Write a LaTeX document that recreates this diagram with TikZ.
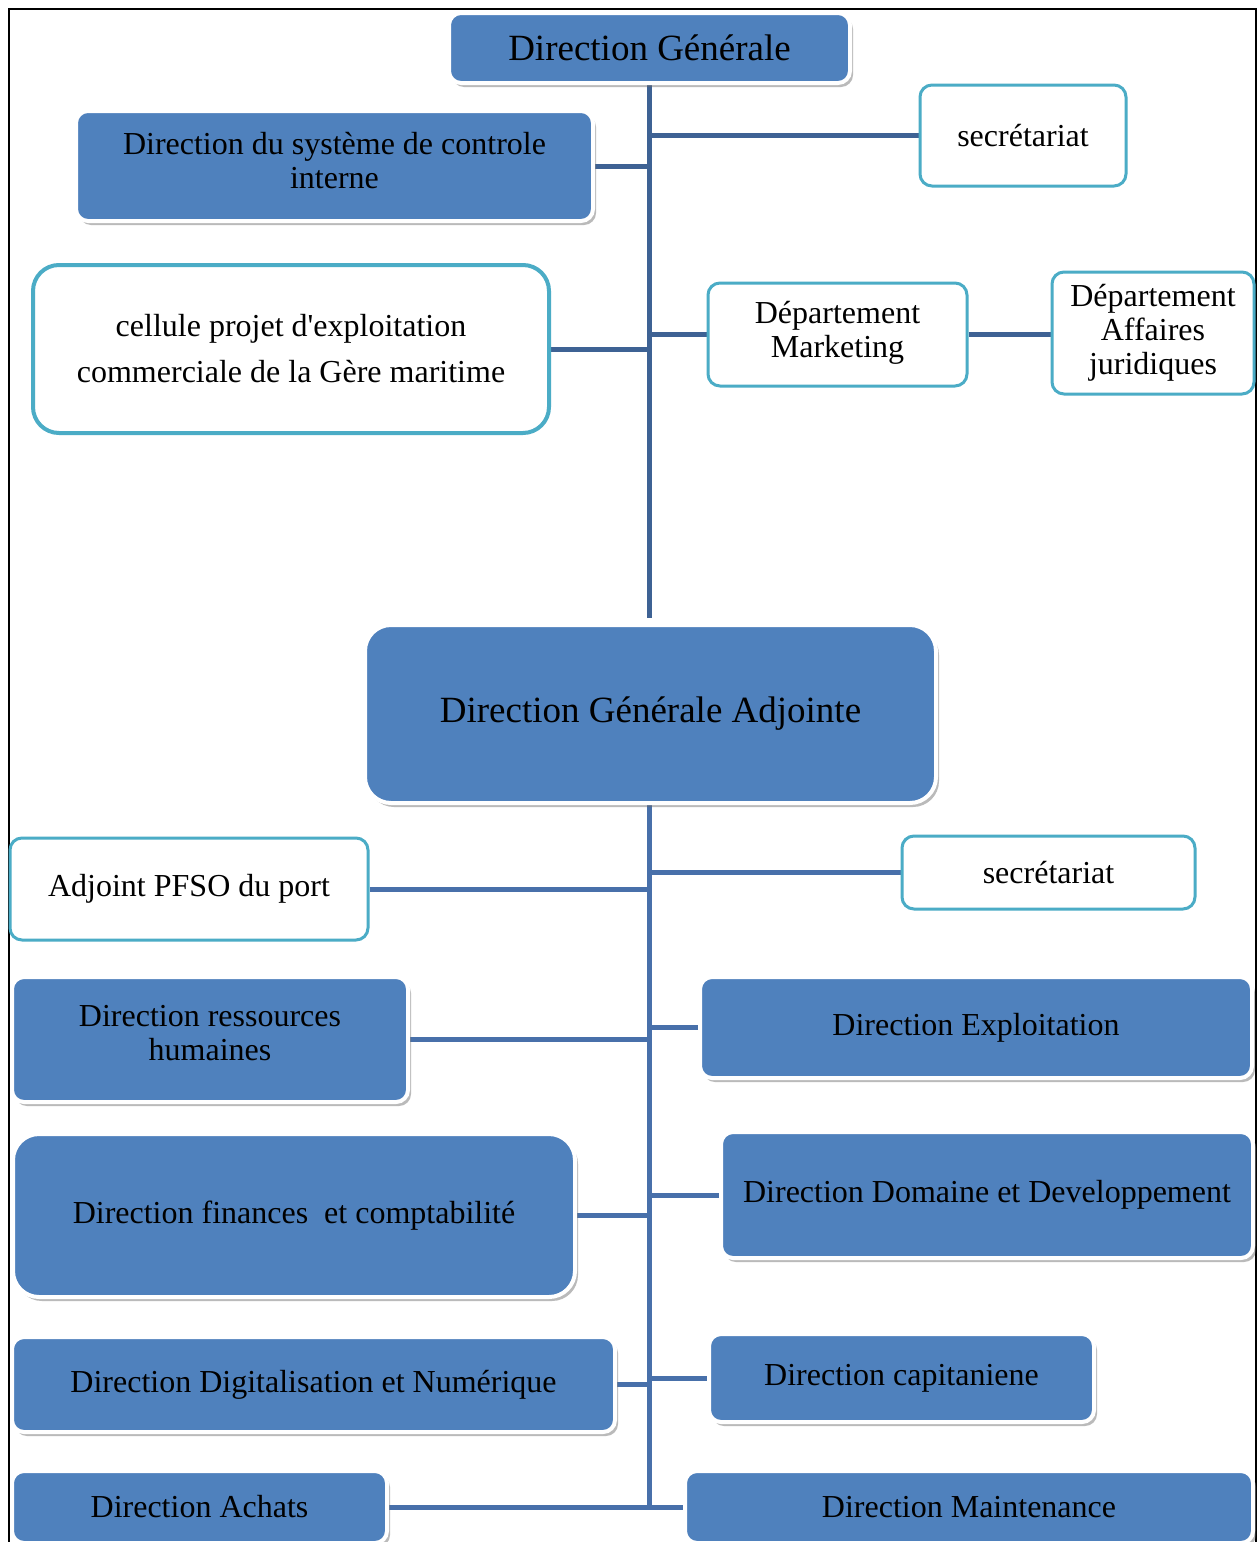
\documentclass[tikz,border=0pt]{standalone}
\usepackage{fontspec}
\setmainfont{Liberation Serif}[Ligatures=TeXOff]
\usetikzlibrary{shadows}
\pgfdeclarelayer{background}
\pgfsetlayers{background,main}
\definecolor{boxblue}{RGB}{79,129,189}
\definecolor{teal}{RGB}{75,172,198}
\definecolor{connA}{RGB}{62,98,148}
\definecolor{connB}{RGB}{72,112,170}
\tikzset{
  bluebox/.style={draw=white, line width=4pt, fill=boxblue, rounded corners=12pt,
    inner sep=0pt, align=center, font=\fontsize{32}{34}\selectfont,
    drop shadow={shadow xshift=3pt, shadow yshift=-4pt, fill=black!60, opacity=0.45}},
  whitebox/.style={draw=teal, line width=3pt, fill=white, rounded corners=12pt,
    inner sep=0pt, align=center, font=\fontsize{32}{34}\selectfont},
  connA/.style={draw=connA, line width=5pt},
  connB/.style={draw=connB, line width=5pt},
}
\begin{document}
\begin{tikzpicture}[x=1pt, y=-1pt]
\useasboundingbox (0,0) rectangle (1260,1542);
\clip (0,0) rectangle (1260,1542);
\begin{pgfonlayer}{background}
\fill[white] (0,0) rectangle (1260,1542);
\end{pgfonlayer}
\draw[line width=2pt, black] (8.5,9) rectangle (1256,1600);

% top part
\node[bluebox, minimum width=401pt, minimum height=70pt, font=\fontsize{37}{40}\selectfont] (DG) at (649.5,48) {Direction Générale};
\node[whitebox, minimum width=206pt, minimum height=101pt] (sec1) at (1023,135.5) {secrétariat};
\node[bluebox, minimum width=517pt, minimum height=110pt] (DSCI) at (334.5,166) {Direction du système de controle\\interne\\[-22pt]};
\node[whitebox, line width=4pt, rounded corners=26pt, minimum width=516pt, minimum height=168pt] (cel) at (291,349) {cellule projet d'exploitation\\[12pt]commerciale de la Gère maritime};
\node[whitebox, minimum width=259pt, minimum height=103pt] (mkt) at (837.5,334.5) {Département\\Marketing\\[-24pt]};
\node[whitebox, minimum width=202pt, minimum height=122pt] (daj) at (1153,333) {Département\\Affaires\\juridiques\\[-26pt]};

% DGA
\node[bluebox, rounded corners=26pt, minimum width=571pt, minimum height=178pt, font=\fontsize{37}{40}\selectfont] (DGA) at (650.5,714) {Direction Générale Adjointe};

% bottom part
\node[whitebox, minimum width=358pt, minimum height=102pt] (pfso) at (189,889) {Adjoint PFSO du port};
\node[whitebox, minimum width=293pt, minimum height=73pt] (sec2) at (1048.5,872.5) {secrétariat};
\node[bluebox, minimum width=396pt, minimum height=125pt] (drh) at (210,1039.5) {Direction ressources\\humaines\\[-20pt]};
\node[bluebox, minimum width=552pt, minimum height=101pt] (dexp) at (976,1027.5) {Direction Exploitation};
\node[bluebox, rounded corners=26pt, minimum width=562pt, minimum height=163pt] (dfc) at (294,1215.5) {Direction finances~ et comptabilité};
\node[bluebox, minimum width=532pt, minimum height=126pt] (ddd) at (987,1195) {Direction Domaine et Developpement};
\node[bluebox, minimum width=603pt, minimum height=95pt] (ddn) at (313.5,1384.5) {Direction Digitalisation et Numérique};
\node[bluebox, minimum width=385pt, minimum height=88pt] (dcap) at (901.5,1378) {Direction capitaniene};
\node[bluebox, minimum width=375pt, minimum height=72pt] (da) at (199.5,1507) {Direction Achats};
\node[bluebox, minimum width=568pt, minimum height=72pt] (dm) at (969,1507) {Direction Maintenance};

\coordinate (t1end) at (649.5,618);
\coordinate (t2end) at (649.5,1507);

\begin{pgfonlayer}{background}
  \draw[connA] (DG.south) -- (t1end);
  \draw[connA] (sec1.west) -- (sec1.west -| t1end);
  \draw[connA] (DSCI.east) -- (DSCI.east -| t1end);
  \draw[connA] (cel.east) -- (cel.east -| t1end);
  \draw[connA] (mkt.west) -- (mkt.west -| t1end);
  \draw[connA] (mkt.east) -- (daj.west |- mkt.east);

  \draw[connB] (DGA.south -| t2end) -- (t2end);
  \draw[connB] (sec2.west) -- (sec2.west -| t2end);
  \draw[connB] (pfso.east) -- (pfso.east -| t2end);
  \draw[connB] (drh.east) -- (drh.east -| t2end);
  \draw[connB] (dexp.west) -- (dexp.west -| t2end);
  \draw[connB] (dfc.east) -- (dfc.east -| t2end);
  \draw[connB] (ddd.west) -- (ddd.west -| t2end);
  \draw[connB] (ddn.east) -- (ddn.east -| t2end);
  \draw[connB] (dcap.west) -- (dcap.west -| t2end);
  \draw[connB] (da.east |- t2end) -- (dm.west |- t2end);
\end{pgfonlayer}
\end{tikzpicture}
\end{document}
